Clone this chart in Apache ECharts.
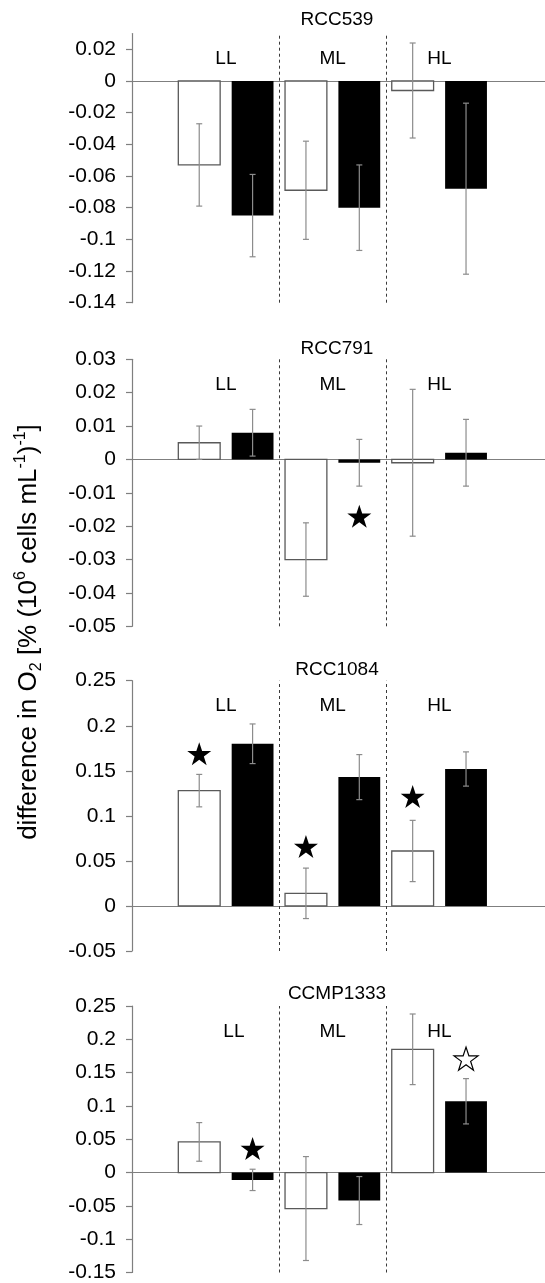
<!DOCTYPE html>
<html lang="en">
<head>
    <meta charset="UTF-8">
    <script src="https://cdn.jsdelivr.net/npm/echarts@6.0.0/dist/echarts.min.js"></script>
    <title>difference in O2</title>
    <style>
        html, body { margin: 0; padding: 0; background: #fff; }
    </style>
</head>
<body>
    <div id="chart" style="width: 545px;height:1283px;"></div>
    <script>
        var groups = ['LL', 'ML', 'HL'];
        var strains = ['RCC539', 'RCC791', 'RCC1084', 'CCMP1333'];

        // open (white) and filled (black) bars, value and error per group
        var rcc539Open = [-0.053, -0.069, -0.006];
        var rcc539OpenErr = [0.026, 0.031, 0.030];
        var rcc539Filled = [-0.085, -0.080, -0.068];
        var rcc539FilledErr = [0.026, 0.027, 0.054];
        var rcc539Ticks = [-0.14, -0.12, -0.1, -0.08, -0.06, -0.04, -0.02, 0, 0.02];
        var rcc539Stars = [];

        var rcc791Open = [0.005, -0.030, -0.001];
        var rcc791OpenErr = [0.005, 0.011, 0.022];
        var rcc791Filled = [0.008, -0.001, 0.002];
        var rcc791FilledErr = [0.007, 0.007, 0.010];
        var rcc791Ticks = [-0.05, -0.04, -0.03, -0.02, -0.01, 0, 0.01, 0.02, 0.03];
        var rcc791Stars = [['ML', 'filled', -0.017, true]];

        var rcc1084Open = [0.128, 0.014, 0.061];
        var rcc1084OpenErr = [0.018, 0.028, 0.034];
        var rcc1084Filled = [0.180, 0.143, 0.152];
        var rcc1084FilledErr = [0.022, 0.025, 0.019];
        var rcc1084Ticks = [-0.05, 0, 0.05, 0.1, 0.15, 0.2, 0.25];
        var rcc1084Stars = [['LL', 'open', 0.169, true], ['ML', 'open', 0.066, true], ['HL', 'open', 0.1215, true]];

        var ccmp1333Open = [0.046, -0.054, 0.185];
        var ccmp1333OpenErr = [0.029, 0.078, 0.053];
        var ccmp1333Filled = [-0.011, -0.042, 0.107];
        var ccmp1333FilledErr = [0.016, 0.036, 0.034];
        var ccmp1333Ticks = [-0.15, -0.1, -0.05, 0, 0.05, 0.1, 0.15, 0.2, 0.25];
        var ccmp1333Stars = [['LL', 'filled', 0.036, true], ['HL', 'filled', 0.171, false]];

        var panelData = [
            { open: rcc539Open, openErr: rcc539OpenErr, filled: rcc539Filled, filledErr: rcc539FilledErr, ticks: rcc539Ticks, stars: rcc539Stars, min: -0.14, max: 0.03 },
            { open: rcc791Open, openErr: rcc791OpenErr, filled: rcc791Filled, filledErr: rcc791FilledErr, ticks: rcc791Ticks, stars: rcc791Stars, min: -0.05, max: 0.03 },
            { open: rcc1084Open, openErr: rcc1084OpenErr, filled: rcc1084Filled, filledErr: rcc1084FilledErr, ticks: rcc1084Ticks, stars: rcc1084Stars, min: -0.05, max: 0.25 },
            { open: ccmp1333Open, openErr: ccmp1333OpenErr, filled: ccmp1333Filled, filledErr: ccmp1333FilledErr, ticks: ccmp1333Ticks, stars: ccmp1333Stars, min: -0.15, max: 0.25 }
        ];

        // layout of each panel (pixels)
        var layout = [
            { top: 33.5, height: 269.2, titleTop: 5, labelPos: [1, 2, 3] },
            { top: 359.3, height: 267, titleTop: 334.5, labelPos: [1, 2, 3] },
            { top: 680.7, height: 270.3, titleTop: 655.5, labelPos: [1, 2, 3] },
            { top: 1006, height: 269, titleTop: 979.5, labelPos: [1.075, 2, 3] }
        ];

        var FONT = 'Liberation Sans, Arial, sans-serif';
        var AXIS_GRAY = '#7f7f7f';
        var shift = 0.25;    // bar centre offset from group centre
        var halfBar = 0.196; // half bar width

        function barItem(side) {
            return function (params, api) {
                var x = api.value(0) + side * shift;
                var v = api.value(1);
                var a = api.coord([x - halfBar, 0]);
                var b = api.coord([x + halfBar, v]);
                return {
                    type: 'rect',
                    shape: { x: a[0], y: Math.min(a[1], b[1]), width: b[0] - a[0], height: Math.abs(b[1] - a[1]) },
                    style: side < 0 ? { fill: '#fff', stroke: '#595959', lineWidth: 1.3 } : { fill: '#000' }
                };
            };
        }

        function errItem(side) {
            return function (params, api) {
                var x = api.value(0) + side * shift;
                var v = api.value(1), e = api.value(2);
                var hi = api.coord([x, v + e]);
                var lo = api.coord([x, v - e]);
                var st = { stroke: '#8c8c8c', lineWidth: 1.2 };
                return {
                    type: 'group',
                    children: [
                        { type: 'line', shape: { x1: hi[0], y1: hi[1], x2: lo[0], y2: lo[1] }, style: st },
                        { type: 'line', shape: { x1: hi[0] - 3, y1: hi[1], x2: hi[0] + 3, y2: hi[1] }, style: st },
                        { type: 'line', shape: { x1: lo[0] - 3, y1: lo[1], x2: lo[0] + 3, y2: lo[1] }, style: st }
                    ]
                };
            };
        }

        var starPath = 'path://M50,0 L61.8,35.1 L98.8,35.1 L68.8,56.8 L80.2,91.9 L50,70.2 L19.8,91.9 L31.2,56.8 L1.2,35.1 L38.2,35.1 Z';

        var option = {
            animation: false,
            backgroundColor: '#fff',
            title: [],
            grid: [],
            xAxis: [],
            yAxis: [],
            series: [],
            graphic: [{
                type: 'text',
                x: 29,
                y: 632,
                rotation: Math.PI / 2,
                style: {
                    text: 'difference in O{sub|2} [% (10{sup|6} cells mL{sup|-1}){sup|-1}]',
                    fontSize: 26,
                    fontFamily: FONT,
                    fill: '#000',
                    align: 'center',
                    verticalAlign: 'middle',
                    rich: {
                        sup: { fontSize: 16, fontFamily: FONT, fill: '#000', verticalAlign: 'top', lineHeight: 32 },
                        sub: { fontSize: 16, fontFamily: FONT, fill: '#000', verticalAlign: 'bottom', lineHeight: 32 }
                    }
                }
            }]
        };

        for (var i = 0; i < panelData.length; i++) {
            var d = panelData[i];
            var L = layout[i];

            option.title.push({
                text: strains[i],
                left: 332,
                top: L.titleTop,
                textAlign: 'center',
                textStyle: { fontSize: 19, fontWeight: 'normal', fontFamily: FONT, color: '#000' }
            });

            option.grid.push({ left: 132, right: 0, top: L.top, height: L.height });

            // zero line
            option.xAxis.push({
                gridIndex: i, type: 'value', min: 0.12, max: 3.99,
                axisLine: { onZero: true, lineStyle: { color: AXIS_GRAY, width: 1.2 } },
                axisTick: { show: false }, axisLabel: { show: false }, splitLine: { show: false }
            });
            // group labels LL / ML / HL
            option.xAxis.push({
                gridIndex: i, type: 'value', position: 'top', min: 0.12, max: 3.99,
                axisLine: { show: false, onZero: false },
                axisTick: { show: false }, splitLine: { show: false },
                axisLabel: {
                    inside: true, margin: 16, customValues: L.labelPos,
                    fontSize: 19, fontFamily: FONT, color: '#000',
                    formatter: function (v) { return groups[Math.round(v) - 1]; }
                }
            });

            option.yAxis.push({
                gridIndex: i, type: 'value', min: d.min, max: d.max,
                axisLine: { show: true, onZero: false, lineStyle: { color: AXIS_GRAY, width: 1.2 } },
                axisTick: { show: true, length: 6, customValues: d.ticks, lineStyle: { color: AXIS_GRAY, width: 1.2 } },
                splitLine: { show: false },
                axisLabel: {
                    customValues: d.ticks, margin: 16,
                    fontSize: 21, fontFamily: FONT, color: '#000',
                    formatter: function (v) { return String(Math.round(v * 1000) / 1000); }
                }
            });

            var openRows = [], filledRows = [];
            for (var g = 0; g < groups.length; g++) {
                openRows.push([g + 1, d.open[g], d.openErr[g]]);
                filledRows.push([g + 1, d.filled[g], d.filledErr[g]]);
            }

            var xi = i * 2;
            option.series.push({
                type: 'custom', xAxisIndex: xi, yAxisIndex: i, renderItem: barItem(-1),
                data: openRows, encode: { x: 0, y: 1 }, z: 2, silent: true,
                markLine: {
                    silent: true, symbol: ['none', 'none'], label: { show: false },
                    lineStyle: { type: [3, 3], color: '#3a3a3a', width: 1 },
                    data: [{ xAxis: 1.5 }, { xAxis: 2.5 }]
                }
            });
            option.series.push({
                type: 'custom', xAxisIndex: xi, yAxisIndex: i, renderItem: barItem(1),
                data: filledRows, encode: { x: 0, y: 1 }, z: 2, silent: true
            });
            option.series.push({
                type: 'custom', xAxisIndex: xi, yAxisIndex: i, renderItem: errItem(-1),
                data: openRows, encode: { x: 0, y: 1 }, z: 3, silent: true
            });
            option.series.push({
                type: 'custom', xAxisIndex: xi, yAxisIndex: i, renderItem: errItem(1),
                data: filledRows, encode: { x: 0, y: 1 }, z: 3, silent: true
            });

            var starRows = [];
            for (var s = 0; s < d.stars.length; s++) {
                var st = d.stars[s];
                var x = groups.indexOf(st[0]) + 1 + (st[1] === 'open' ? -shift : shift);
                starRows.push({
                    value: [x, st[2]],
                    itemStyle: st[3] ? { color: '#000', opacity: 1 } : { color: '#fff', borderColor: '#000', borderWidth: 1.2, opacity: 1 }
                });
            }
            option.series.push({
                type: 'scatter', xAxisIndex: xi, yAxisIndex: i, symbol: starPath,
                symbolSize: [24, 23], data: starRows, z: 4, silent: true
            });
        }

        var chart = echarts.init(document.getElementById('chart'));
        chart.setOption(option);
    </script>
</body>
</html>
